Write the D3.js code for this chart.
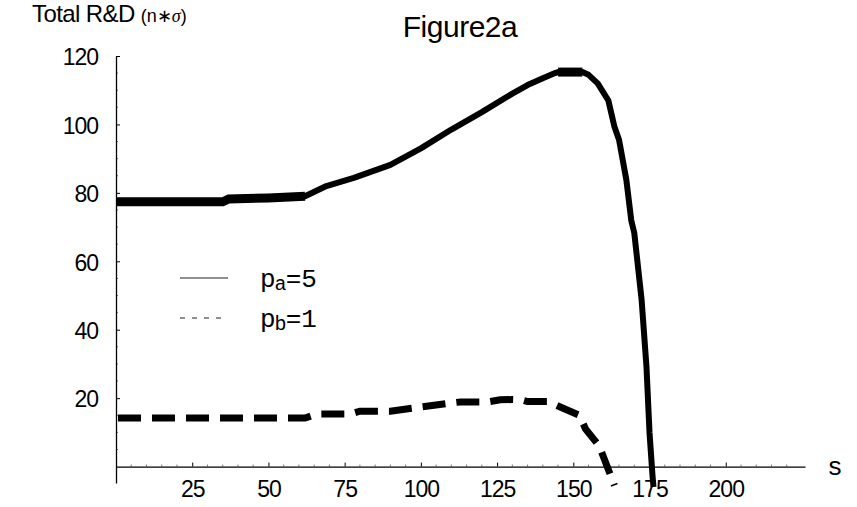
<!DOCTYPE html>
<html>
<head>
<meta charset="utf-8">
<script src="https://cdn.jsdelivr.net/npm/d3@7"></script>
<style>
body { margin: 0; background: #fff; }
svg { display: block; }
.tick text { font-family: "Liberation Sans", Arial, sans-serif; font-size: 23px; letter-spacing: -1px; fill: #000; }
.tick line { stroke: #000; }
.domain { stroke: #000; stroke-width: 1.3; }
.minor line { stroke: #777; }
.legend { font-family: "Courier New", Courier, "Nimbus Mono PS", FreeMono, "Liberation Mono", monospace; font-size: 26px; fill: #000; }
</style>
</head>
<body>
<script>
const width = 857, height = 507;

// s values and total R&D
const solidS = [0, 35, 37, 50, 62, 69, 78, 90, 100, 110, 120, 130, 135, 140, 144, 145, 153, 155, 158, 161.5, 163.5, 165, 167.4, 169, 170, 172.4, 174, 175, 176, 176.3];
const solidV = [77.4, 77.4, 78.2, 78.5, 79, 82, 84.4, 88.2, 93, 98.5, 103.6, 109, 111.5, 113.5, 115, 115.3, 115.3, 114.5, 112, 107, 99.3, 95.5, 83.8, 72, 68.3, 48.8, 29.2, 9.9, -2.9, -6];
const dashS = [0, 62, 66, 77, 80, 90, 100, 110, 113, 122, 126, 130, 133, 135, 142, 145, 152, 154, 158.5, 160, 163.5];
const dashV = [14.2, 14.2, 15.4, 15.4, 16.2, 16.2, 17.4, 18.6, 18.9, 18.9, 19.5, 19.6, 19.5, 19, 19, 17.7, 15, 11, 6, 2.6, -5.5];
// stretches of the solid line drawn heavier
const heavyRanges = [[0, 62], [144.5, 153.5]];

const xTicks = [25, 50, 75, 100, 125, 150, 175, 200];
const yTicks = [20, 40, 60, 80, 100, 120];

const svg = d3.select("body").append("svg")
  .attr("width", width)
  .attr("height", height);

const x = d3.scaleLinear().domain([0, 226]).range([116, 805]);
const y = d3.scaleLinear().domain([-4.8, 120]).range([483, 56]);
const y0 = y(0);

// minor ticks
const minorX = d3.range(5, 226, 5).filter(d => d % 25 !== 0);
const minorY = d3.range(5, 120, 5).filter(d => d % 20 !== 0);
const minor = svg.append("g").attr("class", "minor");
minor.selectAll(".mx").data(minorX).enter().append("line")
  .attr("x1", d => x(d)).attr("x2", d => x(d))
  .attr("y1", y0).attr("y2", y0 - 2);
minor.selectAll(".my").data(minorY).enter().append("line")
  .attr("x1", x(0)).attr("x2", x(0) + 2)
  .attr("y1", d => y(d)).attr("y2", d => y(d));

svg.append("g")
  .attr("transform", `translate(0, ${y0})`)
  .call(d3.axisBottom(x).tickValues(xTicks).tickSizeInner(-4).tickSizeOuter(0).tickPadding(14));

svg.append("g")
  .attr("transform", `translate(${x(0)}, 0)`)
  .call(d3.axisLeft(y).tickValues(yTicks).tickSizeInner(-4).tickSizeOuter(0).tickPadding(18))
  .call(g => g.selectAll(".tick text").attr("dy", "0.38em"));

const line = d3.line()
  .x(d => x(d[0]))
  .y(d => y(d[1]));

const solid = solidS.map((s, i) => [s, solidV[i]]);
const dashed = dashS.map((s, i) => [s, dashV[i]]);

svg.append("path")
  .attr("d", line(solid))
  .attr("fill", "none")
  .attr("stroke", "#000")
  .attr("stroke-width", 6)
  .attr("stroke-linejoin", "round");

for (const [a, b] of heavyRanges) {
  svg.append("path")
    .attr("d", line(solid.filter(d => d[0] >= a && d[0] <= b)))
    .attr("fill", "none")
    .attr("stroke", "#000")
    .attr("stroke-width", 9);
}

svg.append("path")
  .attr("d", line(dashed))
  .attr("fill", "none")
  .attr("stroke", "#000")
  .attr("stroke-width", 7)
  .attr("stroke-dasharray", "23,11")
  .attr("stroke-dashoffset", -2);

// title and axis labels
svg.append("text")
  .attr("x", 460).attr("y", 37)
  .attr("text-anchor", "middle")
  .attr("font-family", "Liberation Sans, Arial, sans-serif")
  .attr("font-size", 30)
  .attr("letter-spacing", -0.5)
  .text("Figure2a");

const yl = svg.append("text")
  .attr("x", 32).attr("y", 22)
  .attr("font-family", "Liberation Sans, Arial, sans-serif")
  .attr("font-size", 24)
  .attr("letter-spacing", -0.6);
yl.append("tspan").text("Total R&D ");
yl.append("tspan").attr("font-size", 18).attr("letter-spacing", 0).text("(n\u2217");
yl.append("tspan").attr("font-size", 18).attr("letter-spacing", 0).attr("font-style", "italic")
  .attr("font-family", "Liberation Serif, serif").text("\u03c3");
yl.append("tspan").attr("font-size", 18).attr("letter-spacing", 0).text(")");

svg.append("text")
  .attr("x", 835).attr("y", 475)
  .attr("text-anchor", "middle")
  .attr("font-family", "Liberation Sans, Arial, sans-serif")
  .attr("font-size", 26)
  .text("s");

// legend
const legendItems = [
  {sub: "a", val: "5", dash: null, yy: 278},
  {sub: "b", val: "1", dash: "5,7", yy: 318}
];
const lg = svg.append("g");
legendItems.forEach(d => {
  lg.append("line")
    .attr("x1", 180).attr("x2", d.dash ? 222 : 228)
    .attr("y1", d.yy).attr("y2", d.yy)
    .attr("stroke", "#222").attr("stroke-width", 1.2)
    .attr("stroke-dasharray", d.dash);
  const t = lg.append("text").attr("class", "legend")
    .attr("x", 260).attr("y", d.yy + 9);
  t.append("tspan").text("p");
  t.append("tspan").attr("font-size", 20).attr("dy", 3).attr("dx", -1).text(d.sub);
  t.append("tspan").attr("dy", -3).attr("dx", -1).text("=" + d.val);
});
</script>
</body>
</html>
